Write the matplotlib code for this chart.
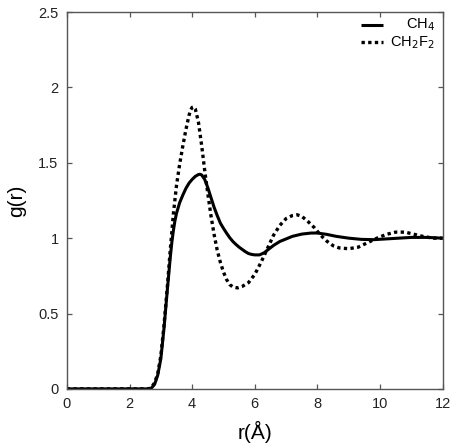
import matplotlib
matplotlib.use("Agg")
import matplotlib.pyplot as plt

# g(r)
r_ch4 = [0.0, 1.0, 2.0, 2.6, 2.7, 2.8, 2.9, 3.0, 3.1, 3.2, 3.3, 3.35, 3.4, 3.45,
         3.5, 3.6, 3.7, 3.8, 3.9, 4.0, 4.1, 4.2, 4.25, 4.3, 4.4, 4.5, 4.6, 4.7,
         4.8, 4.9, 5.0, 5.1, 5.2, 5.3, 5.4, 5.5, 5.6, 5.7, 5.8, 5.9, 6.0, 6.15,
         6.3, 6.45, 6.6, 6.8, 7.0, 7.2, 7.5, 7.8, 8.0, 8.3, 8.6, 9.0, 9.4, 9.8,
         10.2, 10.6, 11.0, 11.5, 12.0]
g_ch4 = [0.0, 0.0, 0.0, 0.0, 0.005, 0.03, 0.09, 0.2, 0.4, 0.64, 0.87, 0.97, 1.05,
         1.115, 1.165, 1.235, 1.285, 1.33, 1.365, 1.39, 1.41, 1.422, 1.424, 1.42,
         1.39, 1.335, 1.27, 1.205, 1.15, 1.1, 1.065, 1.033, 1.003, 0.978, 0.958,
         0.94, 0.925, 0.91, 0.898, 0.892, 0.889, 0.889, 0.903, 0.928, 0.952,
         0.978, 0.995, 1.012, 1.027, 1.034, 1.034, 1.025, 1.012, 1.0, 0.992,
         0.99, 0.995, 1.0, 1.005, 1.005, 1.0]

r_ch2f2 = [0.0, 1.0, 2.0, 2.6, 2.7, 2.8, 2.9, 3.0, 3.1, 3.2, 3.3, 3.4, 3.5, 3.6,
           3.7, 3.8, 3.9, 3.95, 4.0, 4.05, 4.1, 4.2, 4.3, 4.4, 4.5, 4.6, 4.7,
           4.8, 4.9, 5.0, 5.1, 5.2, 5.3, 5.45, 5.6, 5.8, 6.0, 6.2, 6.4, 6.6,
           6.8, 7.0, 7.2, 7.35, 7.5, 7.7, 7.9, 8.1, 8.3, 8.5, 8.7, 9.0, 9.3, 9.6,
           9.9, 10.2, 10.5, 10.8, 11.1, 11.4, 11.7, 12.0]
g_ch2f2 = [0.0, 0.0, 0.0, 0.0, 0.01, 0.04, 0.1, 0.22, 0.42, 0.66, 0.92, 1.16,
           1.35, 1.49, 1.61, 1.72, 1.815, 1.85, 1.868, 1.872, 1.858, 1.77, 1.62,
           1.45, 1.295, 1.15, 1.025, 0.92, 0.84, 0.775, 0.725, 0.692, 0.676,
           0.67, 0.68, 0.705, 0.76, 0.84, 0.93, 1.02, 1.085, 1.13, 1.15, 1.155,
           1.145, 1.11, 1.07, 1.02, 0.98, 0.95, 0.935, 0.93, 0.94, 0.97, 1.0,
           1.025, 1.04, 1.04, 1.025, 1.01, 1.0, 1.0]

x_ticks = [0, 2, 4, 6, 8, 10, 12]
y_ticks = [0, 0.5, 1, 1.5, 2, 2.5]
y_labels = ["0", "0.5", "1", "1.5", "2", "2.5"]

plt.rcParams["font.family"] = ["Liberation Sans", "DejaVu Sans"]

fig = plt.figure(figsize=(4.55, 4.48), dpi=100)
ax = fig.add_axes([0.147, 0.132, 0.826, 0.841])

ax.plot(r_ch4, g_ch4, color="black", lw=2.2, solid_capstyle="butt")
ax.plot(r_ch2f2, g_ch2f2, color="black", lw=2.4, linestyle=(0, (1, 1)))

ax.set_xlim(0, 12)
ax.set_ylim(0, 2.5)
ax.set_xticks(x_ticks)
ax.set_yticks(y_ticks)
ax.set_yticklabels(y_labels)
ax.tick_params(direction="in", length=3.8, width=0.9, top=True, right=True,
               labelsize=10.5, colors="#555555", labelcolor="#222222", pad=6)
for s in ax.spines.values():
    s.set_linewidth(1.0)
    s.set_color("#555555")

ax.set_xlabel("r(Å)", fontsize=15, labelpad=7)
ax.set_ylabel("g(r)", fontsize=15, labelpad=9)

# legend drawn by hand so labels sit right-aligned, as in the original
ax.plot([0.782, 0.840], [0.966, 0.966], transform=ax.transAxes, color="black",
        lw=2.2, solid_capstyle="butt")
ax.plot([0.782, 0.840], [0.920, 0.920], transform=ax.transAxes, color="black",
        lw=2.4, linestyle=(0, (1, 1)))
ax.text(0.979, 0.966, r"CH$_4$", transform=ax.transAxes, ha="right",
        va="center", fontsize=10.5)
ax.text(0.979, 0.920, r"CH$_2$F$_2$", transform=ax.transAxes, ha="right",
        va="center", fontsize=10.5)

fig.savefig("out.png", dpi=100)
